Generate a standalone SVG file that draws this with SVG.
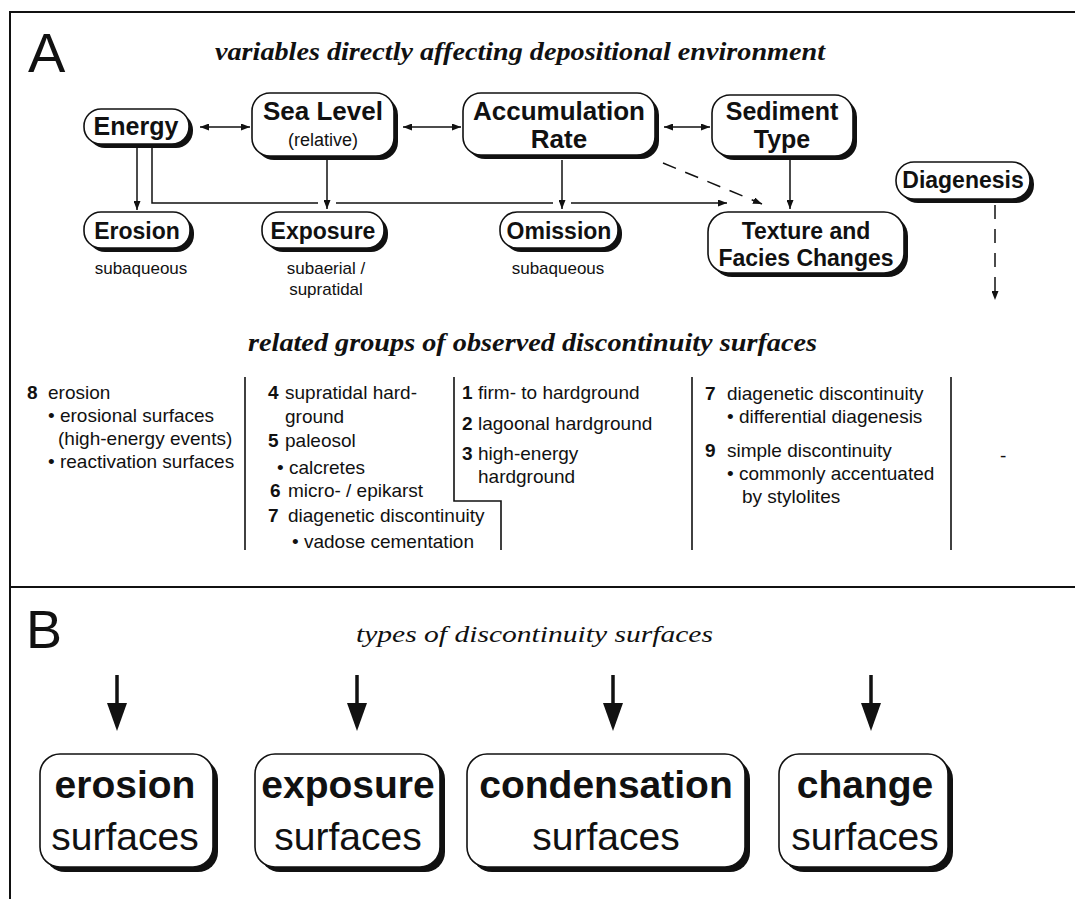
<svg xmlns="http://www.w3.org/2000/svg" width="1075" height="899" viewBox="0 0 1075 899">
<style>
.frame{stroke:#111;stroke-width:2;fill:none}
.box{fill:#fff;stroke:#111;stroke-width:1.6}
.shd{fill:#111}
.nb{font-family:"Liberation Sans",Arial,sans-serif;font-weight:bold;fill:#111;text-anchor:middle}
.nr{font-family:"Liberation Sans",Arial,sans-serif;fill:#111;text-anchor:middle}
.tt{font-family:"Liberation Serif","Times New Roman",serif;font-style:italic;font-weight:bold;fill:#111}
.col{font-family:"Liberation Sans",Arial,sans-serif;font-size:19px;fill:#111}
.num{font-weight:bold}
.ln{stroke:#111;stroke-width:1.5;fill:none}
.dash{stroke:#111;stroke-width:1.5;fill:none;stroke-dasharray:14 10}
.big{stroke:#111;stroke-width:3.5;fill:none}
.div{stroke:#111;stroke-width:1.6;fill:none}
</style>
<defs>
<marker id="ah" viewBox="0 0 9 7" refX="9" refY="3.5" markerWidth="9" markerHeight="7" markerUnits="userSpaceOnUse" orient="auto-start-reverse">
<path d="M0,0 L9,3.5 L0,7 z" fill="#111"/>
</marker>
</defs>
<rect width="1075" height="899" fill="#fff"/>
<!-- frame -->
<path class="frame" d="M10,899 L10,12 L1075,12"/>
<path class="frame" d="M10,587 L1075,587"/>
<text x="28" y="72" font-family="Liberation Sans,Arial,sans-serif" font-size="56" fill="#111">A</text>
<text x="26" y="648" font-family="Liberation Sans,Arial,sans-serif" font-size="54" fill="#111">B</text>
<text class="tt" x="215" y="60" font-size="25" textLength="610" lengthAdjust="spacingAndGlyphs">variables directly affecting depositional environment</text>
<text class="tt" x="248" y="351" font-size="25" textLength="569" lengthAdjust="spacingAndGlyphs">related groups of observed discontinuity surfaces</text>
<text class="tt" x="356" y="642" font-size="24" style="font-weight:normal" textLength="357" lengthAdjust="spacingAndGlyphs">types of discontinuity surfaces</text>

<!-- connectors -->
<g id="connectors">
<line class="ln" x1="200" y1="127" x2="250" y2="127" marker-start="url(#ah)" marker-end="url(#ah)"/>
<line class="ln" x1="403" y1="127" x2="461" y2="127" marker-start="url(#ah)" marker-end="url(#ah)"/>
<line class="ln" x1="664" y1="127" x2="710" y2="127" marker-start="url(#ah)" marker-end="url(#ah)"/>
<line class="ln" x1="137" y1="147" x2="137" y2="210" marker-end="url(#ah)"/>
<path class="ln" d="M152,147 L152,203 L318,203"/>
<line class="ln" x1="336" y1="203" x2="553" y2="203"/>
<line class="ln" x1="571" y1="203" x2="727" y2="203" marker-end="url(#ah)"/>
<line class="ln" x1="327" y1="160" x2="327" y2="209" marker-end="url(#ah)"/>
<line class="ln" x1="562" y1="160" x2="562" y2="209" marker-end="url(#ah)"/>
<line class="ln" x1="790" y1="160" x2="790" y2="209" marker-end="url(#ah)"/>
<line class="dash" x1="663" y1="163" x2="762" y2="204" marker-end="url(#ah)"/>
<line class="dash" x1="995" y1="205" x2="995" y2="300" stroke-dasharray="12 12" marker-end="url(#ah)"/>
<!-- B arrows -->
<g>
<line class="big" x1="117" y1="675" x2="117" y2="706"/><path d="M107,703 L127,703 L117,731 z" fill="#111"/>
<line class="big" x1="357" y1="675" x2="357" y2="706"/><path d="M347,703 L367,703 L357,731 z" fill="#111"/>
<line class="big" x1="613" y1="675" x2="613" y2="706"/><path d="M603,703 L623,703 L613,731 z" fill="#111"/>
<line class="big" x1="871" y1="675" x2="871" y2="706"/><path d="M861,703 L881,703 L871,731 z" fill="#111"/>
</g>
</g>

<!-- nodes A -->
<g id="energy">
<rect class="shd" x="88" y="113" width="105" height="35" rx="17"/>
<rect class="box" x="84" y="109" width="105" height="35" rx="17"/>
<text class="nb" x="136" y="135" font-size="25">Energy</text>
</g>
<g id="sealevel">
<rect class="shd" x="256" y="97" width="142" height="63" rx="18"/>
<rect class="box" x="252" y="93" width="142" height="63" rx="18"/>
<text class="nb" x="323" y="120" font-size="26">Sea Level</text>
<text class="nr" x="323" y="146" font-size="18">(relative)</text>
</g>
<g id="accumulation">
<rect class="shd" x="467" y="97" width="192" height="62" rx="18"/>
<rect class="box" x="463" y="93" width="192" height="62" rx="18"/>
<text class="nb" x="559" y="120" font-size="26">Accumulation</text>
<text class="nb" x="559" y="148" font-size="26">Rate</text>
</g>
<g id="sediment">
<rect class="shd" x="716" y="99" width="141" height="61" rx="18"/>
<rect class="box" x="712" y="95" width="141" height="61" rx="18"/>
<text class="nb" x="782" y="120" font-size="25">Sediment</text>
<text class="nb" x="782" y="148" font-size="25">Type</text>
</g>
<g id="diagenesis">
<rect class="shd" x="900" y="166" width="134" height="37" rx="18"/>
<rect class="box" x="896" y="162" width="134" height="37" rx="18"/>
<text class="nb" x="963" y="188" font-size="23">Diagenesis</text>
</g>
<g id="erosion">
<rect class="shd" x="88" y="216" width="106" height="36" rx="17"/>
<rect class="box" x="84" y="212" width="106" height="36" rx="17"/>
<text class="nb" x="137" y="239" font-size="23">Erosion</text>
<text class="nr" x="141" y="274" font-size="17">subaqueous</text>
</g>
<g id="exposure">
<rect class="shd" x="266" y="216" width="122" height="36" rx="17"/>
<rect class="box" x="262" y="212" width="122" height="36" rx="17"/>
<text class="nb" x="323" y="239" font-size="23">Exposure</text>
<text class="nr" x="326" y="274" font-size="17">subaerial /</text>
<text class="nr" x="326" y="295" font-size="17">supratidal</text>
</g>
<g id="omission">
<rect class="shd" x="504" y="216" width="118" height="36" rx="17"/>
<rect class="box" x="500" y="212" width="118" height="36" rx="17"/>
<text class="nb" x="559" y="239" font-size="23">Omission</text>
<text class="nr" x="558" y="274" font-size="17">subaqueous</text>
</g>
<g id="texture">
<rect class="shd" x="712" y="216" width="196" height="61" rx="20"/>
<rect class="box" x="708" y="212" width="196" height="61" rx="20"/>
<text class="nb" x="806" y="239" font-size="23">Texture and</text>
<text class="nb" x="806" y="266" font-size="23">Facies Changes</text>
</g>

<!-- columns -->
<g id="columns">
<path class="div" d="M245,377 L245,550"/>
<path class="div" d="M454,377 L454,501 L501,501 L501,550"/>
<path class="div" d="M692,377 L692,550"/>
<path class="div" d="M951,377 L951,550"/>
<g class="col">
<text x="27" y="399" class="num">8</text><text x="48" y="399">erosion</text>
<text x="48" y="422">• erosional surfaces</text>
<text x="58" y="445">(high-energy events)</text>
<text x="48" y="468">• reactivation surfaces</text>

<text x="268" y="399" class="num">4</text><text x="285" y="399">supratidal hard-</text>
<text x="285" y="423">ground</text>
<text x="268" y="447" class="num">5</text><text x="285" y="447">paleosol</text>
<text x="277" y="474">• calcretes</text>
<text x="270" y="497" class="num">6</text><text x="288" y="497">micro- / epikarst</text>
<text x="268" y="522" class="num">7</text><text x="288" y="522">diagenetic discontinuity</text>
<text x="292" y="548">• vadose cementation</text>

<text x="462" y="399" class="num">1</text><text x="478" y="399">firm- to hardground</text>
<text x="462" y="430" class="num">2</text><text x="478" y="430">lagoonal hardground</text>
<text x="462" y="460" class="num">3</text><text x="478" y="460">high-energy</text>
<text x="478" y="483">hardground</text>

<text x="705" y="400" class="num">7</text><text x="727" y="400">diagenetic discontinuity</text>
<text x="727" y="423">• differential diagenesis</text>
<text x="705" y="457" class="num">9</text><text x="727" y="457">simple discontinuity</text>
<text x="727" y="480">• commonly accentuated</text>
<text x="742" y="503">by stylolites</text>

<text x="1000" y="462">-</text>
</g>
</g>

<!-- nodes B -->
<g id="b-erosion">
<rect class="shd" x="45" y="759" width="173" height="113" rx="20"/>
<rect class="box" x="40" y="754" width="173" height="113" rx="20"/>
<text class="nb" x="125" y="798" font-size="39">erosion</text>
<text class="nr" x="125" y="850" font-size="39">surfaces</text>
</g>
<g id="b-exposure">
<rect class="shd" x="260" y="759" width="185" height="113" rx="20"/>
<rect class="box" x="255" y="754" width="185" height="113" rx="20"/>
<text class="nb" x="348" y="798" font-size="39">exposure</text>
<text class="nr" x="348" y="850" font-size="39">surfaces</text>
</g>
<g id="b-condensation">
<rect class="shd" x="472" y="759" width="278" height="113" rx="20"/>
<rect class="box" x="467" y="754" width="278" height="113" rx="20"/>
<text class="nb" x="606" y="798" font-size="39">condensation</text>
<text class="nr" x="606" y="850" font-size="39">surfaces</text>
</g>
<g id="b-change">
<rect class="shd" x="784" y="759" width="169" height="113" rx="20"/>
<rect class="box" x="779" y="754" width="169" height="113" rx="20"/>
<text class="nb" x="865" y="798" font-size="39">change</text>
<text class="nr" x="865" y="850" font-size="39">surfaces</text>
</g>
</svg>
